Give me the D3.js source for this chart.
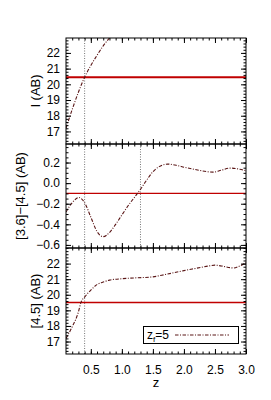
<!DOCTYPE html>
<html>
<head>
<meta charset="utf-8">
<script src="https://d3js.org/d3.v7.min.js" charset="utf-8"></script>
<style>
  body { margin: 0; background: #fff; }
  text { font-family: "Liberation Sans", Arial, sans-serif; }
</style>
</head>
<body>
<script>
// redshift grid and the three model tracks (z_f = 5)
var zI = [0.1, 0.2, 0.3, 0.4, 0.5, 0.6, 0.7, 0.8, 0.9];
var magI = [17.2, 18.4, 19.5, 20.45, 21.2, 21.85, 22.45, 22.95, 23.4];

var zCol = [0.1, 0.2, 0.31, 0.4, 0.5, 0.6, 0.7, 0.8, 0.9, 1.0, 1.1, 1.2, 1.3, 1.4, 1.5, 1.6, 1.74, 1.9, 2.0, 2.2, 2.47, 2.6, 2.74, 2.9, 3.0];
var col = [-0.28, -0.19, -0.14, -0.19, -0.33, -0.47, -0.52, -0.48, -0.40, -0.31, -0.22, -0.14, -0.06, 0.03, 0.11, 0.16, 0.185, 0.17, 0.155, 0.13, 0.107, 0.125, 0.146, 0.135, 0.12];

var z45 = [0.1, 0.2, 0.3, 0.34, 0.4, 0.5, 0.6, 0.7, 0.8, 1.0, 1.2, 1.5, 1.7, 2.0, 2.2, 2.4, 2.5, 2.6, 2.8, 2.9, 3.0];
var mag45 = [17.2, 17.95, 18.9, 19.5, 19.85, 20.3, 20.65, 20.82, 20.94, 21.03, 21.08, 21.15, 21.3, 21.55, 21.7, 21.85, 21.9, 21.85, 21.72, 21.85, 22.05];

var limI = 20.45, limCol = -0.1, lim45 = 19.5;
var zMarks = [[0.4], [0.4, 1.3], [0.4]];
var xTicks = [0.5, 1.0, 1.5, 2.0, 2.5, 3.0];

var W = 271, H = 400;
var left = 66, right = 246;
var svg = d3.select('body').append('svg').attr('width', W).attr('height', H);

var x = d3.scaleLinear().domain([0.1, 3.0]).range([left, right]);

var panels = [
  { top: 38, bottom: 144, dom: [16.2, 22.95], zs: zI, vs: magI, lim: limI, limW: 2, labX: 40,
    major: d3.range(17, 23, 1), minor: d3.range(16.4, 22.95, 0.2), fmt: d3.format('d'), label: 'I (AB)' },
  { top: 144, bottom: 248, dom: [-0.63, 0.38], zs: zCol, vs: col, lim: limCol, limW: 1.2, labX: 25,
    major: [-0.6, -0.4, -0.2, 0.0, 0.2], minor: d3.range(-0.6, 0.38, 0.05), fmt: d3.format('.1f'), label: '[3.6]\u2212[4.5] (AB)' },
  { top: 248, bottom: 354, dom: [16.2, 23.0], zs: z45, vs: mag45, lim: lim45, limW: 1.5, labX: 40,
    major: d3.range(17, 23, 1), minor: d3.range(16.4, 23.0, 0.2), fmt: d3.format('d'), label: '[4.5] (AB)' }
];

var curveColor = '#5a1616';
var redColor = '#c00000';

panels.forEach(function (p, i) {
  var y = d3.scaleLinear().domain(p.dom).range([p.bottom, p.top]);
  var g = svg.append('g');

  g.append('clipPath').attr('id', 'clip' + i)
    .append('rect').attr('x', left).attr('y', p.top)
    .attr('width', right - left).attr('height', p.bottom - p.top);

  // dotted redshift markers
  g.selectAll('.vm').data(zMarks[i]).enter().append('line')
    .attr('x1', function (d) { return x(d); }).attr('x2', function (d) { return x(d); })
    .attr('y1', p.top).attr('y2', p.bottom)
    .attr('stroke', '#777').attr('stroke-width', 1).attr('stroke-dasharray', '1,1.5');

  // detection limit
  g.append('line')
    .attr('x1', left).attr('x2', right)
    .attr('y1', y(p.lim)).attr('y2', y(p.lim))
    .attr('stroke', redColor).attr('stroke-width', p.limW);

  var pts = p.zs.map(function (d, j) { return [d, p.vs[j]]; });
  var line = d3.line().curve(d3.curveMonotoneX)
    .x(function (d) { return x(d[0]); }).y(function (d) { return y(d[1]); });
  g.append('path').datum(pts)
    .attr('clip-path', 'url(#clip' + i + ')')
    .attr('d', line)
    .attr('fill', 'none').attr('stroke', curveColor).attr('stroke-width', 1.1)
    .attr('stroke-dasharray', '3.5,1.5,1,1.5');

  // axes, ticks pointing inward on all four sides
  var minorX = d3.range(0.2, 3.01, 0.1);
  [['bottom', p.bottom], ['top', p.top]].forEach(function (s) {
    var ax = (s[0] === 'bottom' ? d3.axisBottom(x) : d3.axisTop(x));
    g.append('g').attr('transform', 'translate(0,' + s[1] + ')')
      .call(ax.tickValues(minorX).tickSize(-2.5).tickFormat(''))
      .call(function (a) { a.select('.domain').remove(); });
    var ax2 = (s[0] === 'bottom' ? d3.axisBottom(x) : d3.axisTop(x));
    var m = g.append('g').attr('transform', 'translate(0,' + s[1] + ')')
      .call(ax2.tickValues(xTicks).tickSize(-5).tickPadding(11)
        .tickFormat(i === 2 && s[0] === 'bottom' ? d3.format('.1f') : ''));
    m.select('.domain').remove();
    m.selectAll('text').attr('font-size', 12).attr('fill', '#000')
      .attr('font-family', '"Liberation Sans", Arial, sans-serif');
  });
  [['left', left], ['right', right]].forEach(function (s) {
    var mk = function () { return s[0] === 'left' ? d3.axisLeft(y) : d3.axisRight(y); };
    g.append('g').attr('transform', 'translate(' + s[1] + ',0)')
      .call(mk().tickValues(p.minor).tickSize(-2.5).tickFormat(''))
      .call(function (a) { a.select('.domain').remove(); });
    var m = g.append('g').attr('transform', 'translate(' + s[1] + ',0)')
      .call(mk().tickValues(p.major).tickSize(-5).tickPadding(6)
        .tickFormat(s[0] === 'left' ? p.fmt : ''));
    m.select('.domain').remove();
    m.selectAll('text').attr('font-size', 12).attr('fill', '#000')
      .attr('font-family', '"Liberation Sans", Arial, sans-serif');
  });

  g.append('rect').attr('x', left).attr('y', p.top)
    .attr('width', right - left).attr('height', p.bottom - p.top)
    .attr('fill', 'none').attr('stroke', '#000').attr('stroke-width', 1);

  g.append('text')
    .attr('transform', 'translate(' + p.labX + ',' + ((p.top + p.bottom) / 2) + ') rotate(-90)')
    .attr('text-anchor', 'middle').attr('font-size', 13).text(p.label);
});

svg.append('text').attr('x', (left + right) / 2).attr('y', 387)
  .attr('text-anchor', 'middle').attr('font-size', 13).text('z');

// legend
var lg = svg.append('g');
lg.append('rect').attr('x', 143.5).attr('y', 326.5).attr('width', 95).attr('height', 17)
  .attr('fill', '#fff').attr('stroke', '#000').attr('stroke-width', 1);
var lt = lg.append('text').attr('x', 147).attr('y', 339).attr('font-size', 12);
lt.append('tspan').text('z');
lt.append('tspan').attr('font-size', 8).attr('dy', 3).text('f');
lt.append('tspan').attr('dy', -3).text('=5');
lg.append('line').attr('x1', 175).attr('x2', 229).attr('y1', 335).attr('y2', 335)
  .attr('stroke', curveColor).attr('stroke-width', 1.1).attr('stroke-dasharray', '3.5,1.5,1,1.5');
</script>
</body>
</html>
